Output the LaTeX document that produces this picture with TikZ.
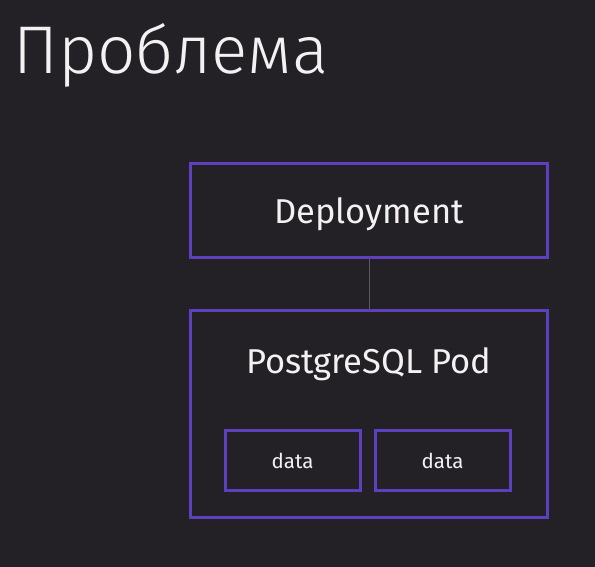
\documentclass[tikz,border=0pt]{standalone}
\usepackage{fontspec}
\setmainfont{Fira Sans}
\newfontfamily\lightfont{Fira Sans Light}
\definecolor{bg}{HTML}{232125}
\definecolor{vio}{HTML}{5D40BE}
\definecolor{txt}{HTML}{F2F2F2}
\definecolor{lnk}{HTML}{5A5A5E}
\begin{document}
\begin{tikzpicture}[x=1pt,y=-1pt,
  box/.style={draw=vio,line width=3pt,fill=bg},
  lbl/.style={text=txt,inner sep=0pt,anchor=base}]
\fill[bg] (0,0) rectangle (595,567);
\useasboundingbox (0,0) rectangle (595,567);
\node[lbl,anchor=base west,font=\lightfont\fontsize{67.5}{72}\selectfont] (title) at (13,74) {Проблема};
\draw[box] (190,164) rectangle (547,257);
\coordinate (dtop) at (369,164);
\node[lbl,font=\fontsize{34.5}{38}\selectfont] (dep) at (369,223) {Deployment};
\coordinate (dbot) at (369,258.5);
\draw[box] (190,310) rectangle (547,517);
\coordinate (ptop) at (369,308.5);
\node[lbl,font=\fontsize{34.5}{38}\selectfont] (pod) at (369,373) {PostgreSQL Pod};
\draw[lnk,line width=0.8pt] (dbot) -- (ptop);
\draw[box] (225,430) rectangle (360,490);
\node[lbl,font=\fontsize{20.5}{24}\selectfont] (d1) at (292.5,468) {data};
\draw[box] (375,430) rectangle (510,490);
\node[lbl,font=\fontsize{20.5}{24}\selectfont] (d2) at (442.5,468) {data};
\end{tikzpicture}
\end{document}
